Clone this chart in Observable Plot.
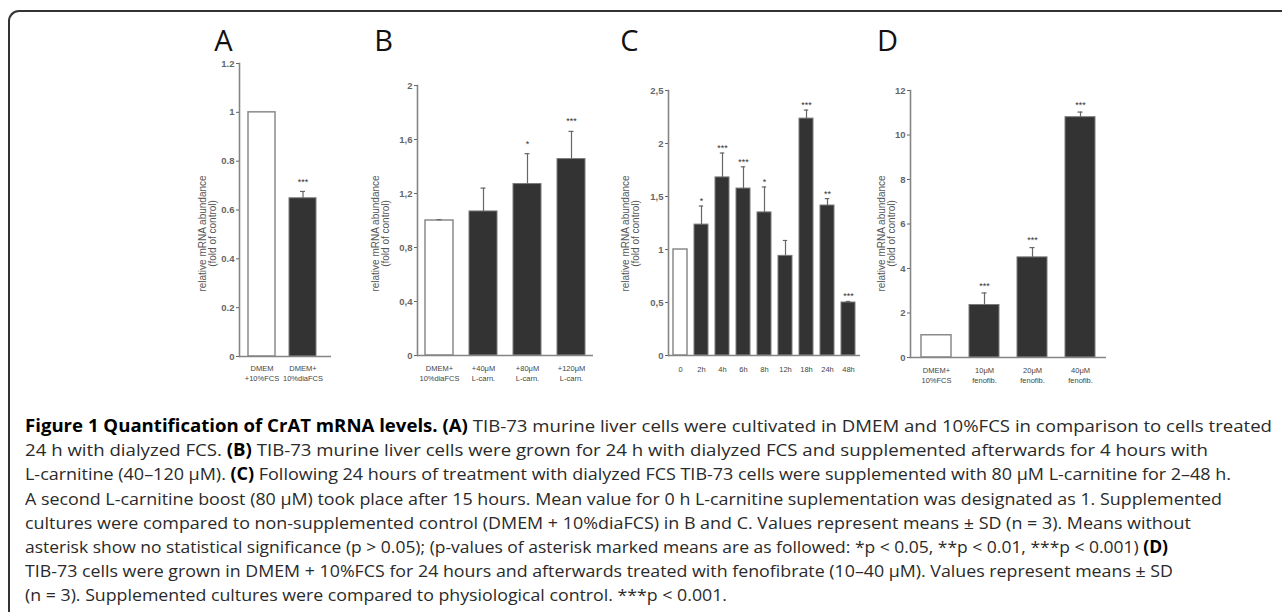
<!DOCTYPE html>
<html><head><meta charset="utf-8">
<script src="https://cdn.jsdelivr.net/npm/d3@7"></script>
<script src="https://cdn.jsdelivr.net/npm/@observablehq/plot@0.6"></script>
<style>
body{margin:0;background:#fff;}
#wrap{position:relative;width:1282px;height:612px;overflow:hidden;background:#fff;}
#frame{position:absolute;left:8px;top:10px;width:1400px;height:800px;border-top:2px solid #333;border-left:2px solid #333;border-top-left-radius:11px;}
.panel{position:absolute;left:0;top:0;}
#caption{position:absolute;left:25px;top:414px;font-family:"Open Sans",sans-serif;font-size:17px;color:#2a2a2a;line-height:24.2px;}
.line{white-space:nowrap;transform-origin:0 50%;width:max-content;}
.line b{color:#000;font-weight:700;}
</style></head>
<body><div id="wrap"><div id="frame"></div><div id="caption"></div></div>
<script>
// ---------- data ----------
const catsA = ["DMEM\n+10%FCS", "DMEM+\n10%diaFCS"];
const valsA = [1.0, 0.648];
const errA  = [null, 0.676];
const starsA = ["", "***"];
const ticksA = [0, 0.2, 0.4, 0.6, 0.8, 1, 1.2];

const catsB = ["DMEM+\n10%diaFCS", "+40μM\nL-carn.", "+80μM\nL-carn.", "+120μM\nL-carn."];
const valsB = [1.0, 1.067, 1.27, 1.455];
const errB  = [1.006, 1.24, 1.495, 1.66];
const starsB = ["", "", "*", "***"];
const ticksB = [0, 0.4, 0.8, 1.2, 1.6, 2];

const catsC = ["0", "2h", "4h", "6h", "8h", "12h", "18h", "24h", "48h"];
const valsC = [1.0, 1.235, 1.68, 1.575, 1.35, 0.94, 2.235, 1.415, 0.5];
const errC  = [null, 1.41, 1.91, 1.78, 1.59, 1.085, 2.315, 1.48, 0.51];
const starsC = ["", "*", "***", "***", "*", "", "***", "**", "***"];
const ticksC = [0, 0.5, 1, 1.5, 2, 2.5];

const catsD = ["DMEM+\n10%FCS", "10μM\nfenofib.", "20μM\nfenofib.", "40μM\nfenofib."];
const valsD = [1.0, 2.36, 4.5, 10.8];
const errD  = [null, 2.9, 4.94, 11.03];
const starsD = ["", "***", "***", "***"];
const ticksD = [0, 2, 4, 6, 8, 10, 12];

const yLabel = "relative mRNA abundance\n(fold of control)";

const captionLines = [
  "<b>Figure 1 Quantification of CrAT mRNA levels.</b> <b>(A)</b> TIB-73 murine liver cells were cultivated in DMEM and 10%FCS in comparison to cells treated",
  "24 h with dialyzed FCS. <b>(B)</b> TIB-73 murine liver cells were grown for 24 h with dialyzed FCS and supplemented afterwards for 4 hours with",
  "L-carnitine (40–120 μM). <b>(C)</b> Following 24 hours of treatment with dialyzed FCS TIB-73 cells were supplemented with 80 μM L-carnitine for 2–48 h.",
  "A second L-carnitine boost (80 μM) took place after 15 hours. Mean value for 0 h L-carnitine suplementation was designated as 1. Supplemented",
  "cultures were compared to non-supplemented control (DMEM + 10%diaFCS) in B and C. Values represent means ± SD (n = 3). Means without",
  "asterisk show no statistical significance (p &gt; 0.05); (p-values of asterisk marked means are as followed: *p &lt; 0.05, **p &lt; 0.01, ***p &lt; 0.001) <b>(D)</b>",
  "TIB-73 cells were grown in DMEM + 10%FCS for 24 hours and afterwards treated with fenofibrate (10–40 μM). Values represent means ± SD",
  "(n = 3). Supplemented cultures were compared to physiological control. ***p &lt; 0.001."
];
// right edge of each caption line in the reference
const captionEnds = [1272, 1208, 1231, 1222, 1191, 1168, 1173, 727];

// ---------- layout ----------
const dot = d => String(d);
const comma = d => String(d).replace(".", ",");
const panels = [
  {letter:"A", cats:catsA, vals:valsA, errs:errA, stars:starsA, ticks:ticksA, fmt:dot, ymax:1.2,
   axisL:239, axisR:331, y0:356, yTop:63, pi:0.333, po:0.262, align:0.364, cap:11, starDy:-9, xlabDy:7, ylabDx:-32, letterX:223},
  {letter:"B", cats:catsB, vals:valsB, errs:errB, stars:starsB, ticks:ticksB, fmt:comma, ymax:2,
   axisL:417, axisR:593, y0:355, yTop:85, pi:0.357, po:0.154, align:0.51, cap:11.5, starDy:-10, xlabDy:8, ylabDx:-37, letterX:383},
  {letter:"C", cats:catsC, vals:valsC, errs:errC, stars:starsC, ticks:ticksC, fmt:comma, ymax:2.5,
   axisL:668, axisR:860, y0:355, yTop:90, pi:0.318, po:0.176, align:0.53, cap:4.8, starDy:-5, xlabDy:9, ylabDx:-38, letterX:629},
  {letter:"D", cats:catsD, vals:valsD, errs:errD, stars:starsD, ticks:ticksD, fmt:dot, ymax:12,
   axisL:910, axisR:1106, y0:357, yTop:90, pi:0.367, po:0.184, align:0.5, cap:12.5, starDy:-7, xlabDy:8, ylabDx:-24, letterX:887}
];

function panel(cfg) {
  const W = 1282, H = 400;
  const data = cfg.cats.map((c, i) => ({cat: c, val: cfg.vals[i], err: cfg.errs[i], star: cfg.stars[i], i}));
  const withErr = data.filter(d => d.err != null);
  const withStar = data.filter(d => d.star);
  return Plot.plot({
    width: W, height: H,
    marginLeft: cfg.axisL, marginRight: W - cfg.axisR,
    marginTop: cfg.yTop, marginBottom: H - cfg.y0,
    style: "background:transparent;overflow:visible;font-family:'Liberation Sans',Arial,sans-serif;",
    x: {type: "band", domain: cfg.cats, paddingInner: cfg.pi, paddingOuter: cfg.po, align: cfg.align, axis: null},
    y: {domain: [0, cfg.ymax], axis: null},
    marks: [
      Plot.barY(data.filter(d => d.i === 0), {x: "cat", y: "val", fill: "white", stroke: "#8a8a8a", strokeWidth: 1.5}),
      Plot.barY(data.filter(d => d.i > 0), {x: "cat", y: "val", fill: "#333", stroke: "#7a7a7a", strokeWidth: 1}),
      Plot.ruleX(withErr, {x: "cat", y1: "val", y2: "err", stroke: "#666", strokeWidth: 1.2}),
      Plot.tickY(withErr, {x: "cat", y: "err", stroke: "#666", strokeWidth: 1.2, insetLeft: cfg.cap, insetRight: cfg.cap}),
      Plot.ruleY([0], {stroke: "#858585", strokeWidth: 1.6}),
      Plot.frame({anchor: "left", stroke: "#858585", strokeWidth: 1.6}),
      Plot.axisY({ticks: cfg.ticks, tickFormat: cfg.fmt, tickSize: 3, tickPadding: 2, fontSize: 9.5, fontWeight: "bold", color: "#666", label: null}),
      Plot.text(withStar, {x: "cat", y: d => d.err ?? d.val, text: "star", dy: cfg.starDy, fontSize: 9, fill: "#333"}),
      Plot.text(data, {x: "cat", text: "cat", frameAnchor: "bottom", lineAnchor: "top", dy: cfg.xlabDy, fontSize: 7.5, lineHeight: 1.33, fill: "#444"}),
      Plot.text([yLabel], {text: d => d, frameAnchor: "left", textAnchor: "middle", lineAnchor: "middle", rotate: -90,
        dx: cfg.ylabDx, dy: 233 - (cfg.yTop + cfg.y0) / 2, fontSize: 10, lineHeight: 1, fill: "#555"}),
      Plot.text([cfg.letter], {text: d => d, frameAnchor: "top-left", textAnchor: "middle", lineAnchor: "middle",
        dx: cfg.letterX - cfg.axisL, dy: 41 - cfg.yTop, fontSize: 29, fontFamily: "Open Sans", fill: "#111"})
    ]
  });
}

const wrap = document.getElementById("wrap");
for (const cfg of panels) {
  const svg = panel(cfg);
  svg.classList.add("panel");
  svg.style.position = "absolute";
  svg.style.left = "0px";
  svg.style.top = "0px";
  wrap.appendChild(svg);
}

const cap = document.getElementById("caption");
for (const l of captionLines) {
  const div = document.createElement("div");
  div.className = "line";
  div.innerHTML = l;
  cap.appendChild(div);
}
function fit() {
  const lines = cap.querySelectorAll(".line");
  lines.forEach((l, i) => {
    l.style.transform = "none";
    const w = l.getBoundingClientRect().width;
    const s = (captionEnds[i] - 25) / w;
    l.style.transform = `scaleX(${s})`;
  });
}
fit();
if (document.fonts && document.fonts.ready) document.fonts.ready.then(fit);
</script>
</body></html>
